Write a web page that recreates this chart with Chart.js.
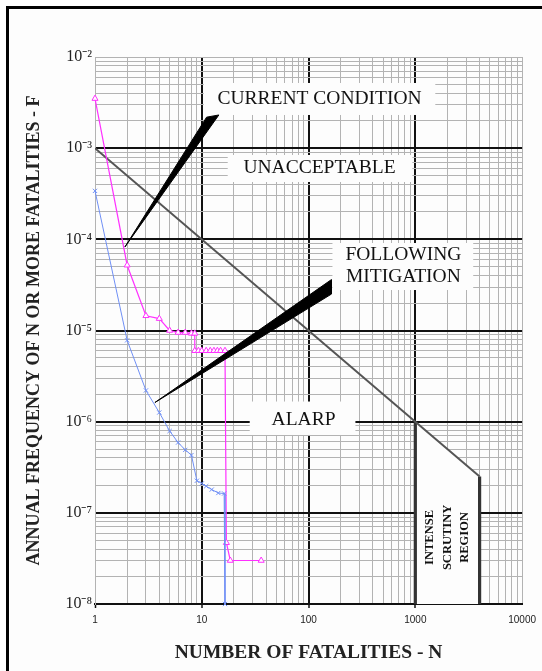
<!DOCTYPE html>
<html>
<head>
<meta charset="utf-8">
<script src="https://cdn.jsdelivr.net/npm/chart.js@4/dist/chart.umd.min.js"></script>
<style>
  html, body { margin: 0; padding: 0; background: #fdfdfd; }
  #wrap { position: relative; width: 542px; height: 671px; overflow: hidden; }
  #frame { position: absolute; left: 6px; top: 6px; width: 700px; height: 800px;
           border-left: 3px solid #000; border-top: 3px solid #000; pointer-events: none; }
  canvas { position: absolute; left: 0; top: 0; }
</style>
</head>
<body>
<div id="wrap">
  <div id="frame"></div>
  <canvas id="c" width="542" height="671"></canvas>
</div>
<script>
// ---------------- data ----------------
const currentN = [1, 2, 3, 4, 5, 6, 7, 8, 8.6, 8.6, 9.3, 10, 11, 12, 13, 14, 15, 16.5, 17, 18.5, 36];
const currentF = [3.5e-3, 5.2e-5, 1.45e-5, 1.35e-5, 1.0e-5, 9.5e-6, 9.5e-6, 9.3e-6, 9.3e-6, 6.0e-6, 6.0e-6, 6.0e-6, 6.0e-6, 6.0e-6, 6.0e-6, 6.0e-6, 6.0e-6, 6.0e-6, 4.7e-8, 3.0e-8, 3.0e-8];

const mitigN = [1, 2, 3, 4, 5, 6, 7, 8, 9, 10, 11, 12.4, 14.3, 16.2, 16.5];
const mitigF = [3.4e-4, 7.8e-6, 2.2e-6, 1.26e-6, 7.9e-7, 5.9e-7, 4.9e-7, 4.3e-7, 2.25e-7, 2.1e-7, 1.96e-7, 1.8e-7, 1.65e-7, 1.63e-7, 1.0e-8];

const criterionN = [1, 1000, 4000];
const criterionF = [1e-3, 1e-6, 2.5e-7];
const scrutinyLeftN = [1000, 1000];
const scrutinyLeftF = [1e-6, 1e-8];
const scrutinyRightN = [4000, 4000];
const scrutinyRightF = [2.5e-7, 1e-8];

const xTickValues = [1, 10, 100, 1000, 10000];
const xTickLabels = ['1', '10', '100', '1000', '10000'];
const yTickExponents = [-8, -7, -6, -5, -4, -3, -2];
const yTickLabels = ['10⁻⁸', '10⁻⁷', '10⁻⁶', '10⁻⁵', '10⁻⁴', '10⁻³', '10⁻²'];

const xTitle = 'NUMBER OF FATALITIES - N';
const yTitle = 'ANNUAL FREQUENCY OF N OR MORE FATALITIES - F';

// annotation texts
const labelTexts = [['CURRENT CONDITION'], ['UNACCEPTABLE'], ['FOLLOWING', 'MITIGATION'], ['ALARP']];
const scrutinyText = ['INTENSE', 'SCRUTINY', 'REGION'];

// ---------------- annotation geometry (in log10 data units) ----------------
const labelBoxes = [
  { n0: 1.019, n1: 3.187, f0: -2.285, f1: -2.636, cn: 2.103, cf: -2.461 },
  { n0: 1.243, n1: 2.972, f0: -3.075, f1: -3.371, cn: 2.103, cf: -3.218 },
  { n0: 2.224, n1: 3.542, f0: -4.040, f1: -4.556, cn: 2.888, cf: -4.292 },
  { n0: 1.449, n1: 2.439, f0: -5.779, f1: -6.146, cn: 1.953, cf: -5.976 }
];
const wedges = [
  [[0.280, -4.084], [1.045, -2.660], [1.160, -2.636]],
  [[0.561, -5.790], [2.215, -4.441], [2.215, -4.600]]
];
const scrutinyCenter = { n: [3.135, 3.300, 3.460], f: -7.27 };

function isDecade(v) {
  const l = Math.log10(v);
  return Math.abs(l - Math.round(l)) < 1e-9;
}
function buildLogTicks(minExp, maxExp) {
  const t = [];
  for (let e = minExp; e < maxExp; e++) {
    for (let k = 1; k <= 9; k++) t.push({ value: Number((k * Math.pow(10, e)).toPrecision(6)) });
  }
  t.push({ value: Math.pow(10, maxExp) });
  return t;
}

const annotPlugin = {
  id: 'annot',
  beforeDatasetsDraw(chart) {
    const { ctx, scales: { x, y } } = chart;
    ctx.save();
    ctx.fillStyle = '#fdfdfd';
    for (const b of labelBoxes) {
      const x0 = x.getPixelForValue(Math.pow(10, b.n0)), x1 = x.getPixelForValue(Math.pow(10, b.n1));
      const y0 = y.getPixelForValue(Math.pow(10, b.f0)), y1 = y.getPixelForValue(Math.pow(10, b.f1));
      ctx.fillRect(x0, y0, x1 - x0, y1 - y0);
    }
    ctx.restore();
  },
  afterDatasetsDraw(chart) {
    const { ctx, scales: { x, y } } = chart;
    ctx.save();
    // wedges
    ctx.fillStyle = '#000';
    ctx.strokeStyle = '#000';
    ctx.lineWidth = 1;
    for (const w of wedges) {
      ctx.beginPath();
      w.forEach((p, i) => {
        const px = x.getPixelForValue(Math.pow(10, p[0]));
        const py = y.getPixelForValue(Math.pow(10, p[1]));
        if (i === 0) ctx.moveTo(px, py); else ctx.lineTo(px, py);
      });
      ctx.closePath();
      ctx.fill();
      ctx.stroke();
    }
    // box texts
    ctx.fillStyle = '#111';
    ctx.font = '19.5px "Liberation Serif", "Times New Roman", serif';
    ctx.textAlign = 'center';
    ctx.textBaseline = 'middle';
    labelBoxes.forEach((b, i) => {
      const cx = x.getPixelForValue(Math.pow(10, b.cn));
      const cy = y.getPixelForValue(Math.pow(10, b.cf));
      const lines = labelTexts[i];
      const lh = 22;
      lines.forEach((t, j) => {
        ctx.fillText(t, cx, cy + (j - (lines.length - 1) / 2) * lh);
      });
    });
    // scrutiny text (rotated)
    ctx.font = 'bold 12.5px "Liberation Serif", "Times New Roman", serif';
    const cy = y.getPixelForValue(Math.pow(10, scrutinyCenter.f));
    scrutinyText.forEach((t, i) => {
      const cx = x.getPixelForValue(Math.pow(10, scrutinyCenter.n[i]));
      ctx.save();
      ctx.translate(cx, cy);
      ctx.rotate(-Math.PI / 2);
      ctx.fillText(t, 0, 0);
      ctx.restore();
    });
    ctx.restore();
  }
};

const ctx = document.getElementById('c').getContext('2d');
new Chart(ctx, {
  type: 'line',
  data: {
    datasets: [
      {
        label: 'Following mitigation',
        data: mitigN.map((n, i) => ({ x: n, y: mitigF[i] })),
        borderColor: '#6f8ff5',
        backgroundColor: '#6f8ff5',
        borderWidth: 1,
        pointStyle: 'crossRot',
        pointRadius: 3,
        pointBorderWidth: 1,
        order: 1,
        clip: 6
      },
      {
        label: 'Current condition',
        data: currentN.map((n, i) => ({ x: n, y: currentF[i] })),
        borderColor: '#ff30ff',
        backgroundColor: '#ffffff',
        borderWidth: 1.2,
        pointStyle: 'triangle',
        pointRadius: 3.5,
        pointBorderWidth: 1,
        order: 2,
        clip: 6
      },
      {
        label: 'Criterion',
        data: criterionN.map((n, i) => ({ x: n, y: criterionF[i] })),
        borderColor: '#555',
        borderWidth: 2,
        pointRadius: 0,
        order: 3
      },
      {
        label: 'Scrutiny left',
        data: scrutinyLeftN.map((n, i) => ({ x: n, y: scrutinyLeftF[i] })),
        borderColor: '#333',
        borderWidth: 3.2,
        pointRadius: 0,
        order: 4
      },
      {
        label: 'Scrutiny right',
        data: scrutinyRightN.map((n, i) => ({ x: n, y: scrutinyRightF[i] })),
        borderColor: '#333',
        borderWidth: 3.2,
        pointRadius: 0,
        order: 5
      },
      {
        label: 'Scrutiny region',
        data: criterionN.slice(1).map((n, i) => ({ x: n, y: criterionF[i + 1] })),
        borderWidth: 0,
        borderColor: 'rgba(0,0,0,0)',
        backgroundColor: '#fdfdfd',
        fill: 'start',
        pointRadius: 0,
        order: 10
      }
    ]
  },
  options: {
    responsive: false,
    animation: false,
    events: [],
    layout: { padding: { top: 57, right: 19, left: 0, bottom: 0 } },
    elements: { line: { tension: 0 } },
    plugins: { legend: { display: false }, tooltip: { enabled: false } },
    scales: {
      x: {
        type: 'logarithmic',
        min: 1, max: 10000,
        afterBuildTicks(s) { s.ticks = buildLogTicks(0, 4); },
        afterFit(s) { s.height = 67; },
        ticks: {
          autoSkip: false, maxRotation: 0, padding: 6,
          color: '#222',
          font: { family: '"Liberation Sans", Arial, sans-serif', size: 10 },
          callback(v) { const i = xTickValues.findIndex(t => Math.abs(t - v) < 1e-6 * t); return i >= 0 ? xTickLabels[i] : ''; }
        },
        grid: {
          color: c => (isDecade(c.tick.value) && c.tick.value > 1 && c.tick.value < 10000) ? '#111' : '#b3b3b3',
          lineWidth: c => (isDecade(c.tick.value) && c.tick.value > 1 && c.tick.value < 10000) ? 2 : 1,
          drawTicks: true,
          tickLength: 4,
          tickColor: c => (isDecade(c.tick.value) && c.tick.value < 10000) ? '#111' : 'rgba(0,0,0,0)',
          tickWidth: 1.5
        },
        border: { display: true, color: '#111', width: 2 },
        title: {
          display: true, text: xTitle, color: '#222',
          font: { family: '"Liberation Serif", "Times New Roman", serif', size: 19.5, weight: 'bold' },
          padding: { top: 0, bottom: 6 }
        }
      },
      y: {
        type: 'logarithmic',
        min: 1e-8, max: 1e-2,
        afterBuildTicks(s) { s.ticks = buildLogTicks(-8, -2); },
        afterFit(s) { s.width = 95; },
        ticks: {
          autoSkip: false, padding: 3,
          color: '#222',
          font: { family: '"Liberation Serif", "Times New Roman", serif', size: 16 },
          callback(v) {
            if (!isDecade(v)) return '';
            const e = Math.round(Math.log10(v));
            const i = yTickExponents.indexOf(e);
            return i >= 0 ? yTickLabels[i] : '';
          }
        },
        grid: {
          color: c => (isDecade(c.tick.value) && c.tick.value < 1e-2) ? '#111' : '#b3b3b3',
          lineWidth: c => (isDecade(c.tick.value) && c.tick.value < 1e-2) ? 2 : 1,
          drawTicks: false
        },
        border: { display: true, color: '#b3b3b3', width: 1 },
        title: {
          display: true, text: yTitle, color: '#222',
          font: { family: '"Liberation Serif", "Times New Roman", serif', size: 18, weight: 'bold' },
          padding: { top: 24, bottom: 0 }
        }
      }
    }
  },
  plugins: [annotPlugin]
});
</script>
</body>
</html>
